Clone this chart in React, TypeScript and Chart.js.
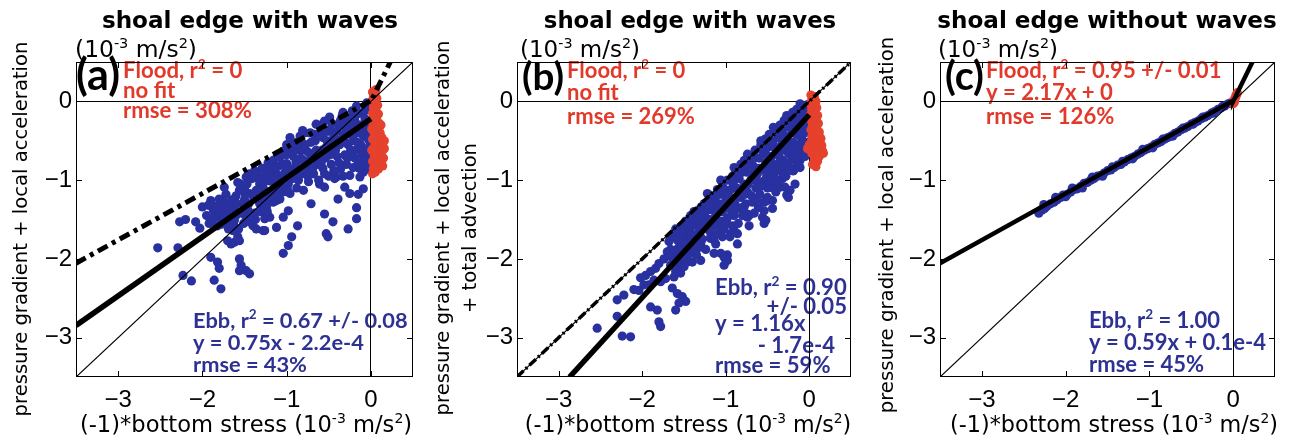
import React, { useEffect, useRef } from 'react';
import { Chart, registerables } from 'chart.js';

Chart.register(...registerables);

// Axis extent and tick values (units of 1e-3 m/s^2)
const AXIS_MIN = -3.5;
const AXIS_MAX = 0.5;
const TICK_VALUES = [-3, -2, -1, 0];

// (a) shoal edge with waves: pressure gradient + local acceleration vs (-1)*bottom stress
const ebbWavesLocal: [number, number][] = [
  [-2.53, -1.86], [-2.29, -1.86], [-2.27, -1.53], [-2.23, -2.21], [-2.2, -1.5],
  [-2.13, -2.28], [-2.08, -1.53], [-2.03, -1.61], [-2.0, -1.34],
  [-1.92, -1.55], [-1.9, -1.26], [-1.88, -1.51], [-1.9, -1.98], [-1.86, -2.27], [-1.84, -1.41],
  [-1.82, -1.58], [-1.82, -2.04], [-1.8, -2.12], [-1.8, -1.24],
  [-1.78, -1.49], [-1.78, -2.38], [-1.74, -1.28], [-1.74, -1.09], [-1.7, -1.53], [-1.7, -1.77],
  [-1.68, -1.3], [-1.72, -1.18], [-1.76, -1.38],
  [-1.66, -1.81], [-1.64, -1.64], [-1.62, -1.79], [-1.62, -1.51], [-1.58, -1.72], [-1.58, -1.03],
  [-1.56, -1.77], [-1.56, -1.13], [-1.56, -2.0], [-1.54, -2.08], [-1.56, -2.15], [-1.6, -1.2],
  [-1.62, -1.38], [-1.6, -1.45],
  [-1.5, -1.11], [-1.48, -0.96], [-1.48, -1.47], [-1.48, -2.15], [-1.44, -0.92], [-1.44, -1.17],
  [-1.44, -1.53], [-1.44, -2.19], [-1.4, -1.58], [-1.52, -1.3], [-1.46, -1.38], [-1.5, -1.25],
  [-1.36, -1.13], [-1.36, -1.62], [-1.32, -1.05], [-1.32, -1.3], [-1.28, -1.64], [-1.28, -1.09],
  [-1.38, -0.88], [-1.34, -0.98], [-1.3, -1.2], [-1.38, -1.42],
  [-1.26, -1.49], [-1.24, -0.84], [-1.24, -1.34], [-1.2, -1.01], [-1.2, -1.47], [-1.26, -1.64],
  [-1.22, -0.78], [-1.18, -0.9], [-1.22, -1.15], [-1.26, -0.95],
  [-1.16, -0.75], [-1.16, -1.28], [-1.12, -0.92], [-1.12, -1.26], [-1.12, -1.6], [-1.08, -0.71],
  [-1.08, -1.24], [-1.06, -1.01], [-1.14, -1.08], [-1.1, -0.82], [-1.04, -1.15],
  [-1.04, -0.63], [-1.04, -1.47], [-1.04, -1.93], [-1.0, -0.79], [-0.98, -1.39], [-0.98, -1.83],
  [-0.96, -0.46], [-0.96, -1.17], [-0.94, -1.72], [-1.02, -0.9], [-0.98, -1.05], [-0.96, -0.6],
  [-1.0, -0.55],
  [-0.92, -0.7], [-0.9, -0.85], [-0.88, -0.52], [-0.87, -1.58], [-0.86, -1.0], [-0.84, -0.62],
  [-0.82, -0.92], [-0.81, -0.37], [-0.8, -1.13], [-0.8, -0.75], [-0.88, -1.1], [-0.84, -0.44],
  [-0.78, -0.55], [-0.76, -0.85], [-0.74, -1.02], [-0.72, -0.4], [-0.71, -1.3], [-0.7, -0.68],
  [-0.68, -0.92], [-0.66, -0.5], [-0.65, -0.29], [-0.64, -0.8], [-0.62, -1.0], [-0.74, -0.65],
  [-0.61, -1.05], [-0.6, -0.4], [-0.58, -0.62], [-0.57, -0.85], [-0.55, -0.25], [-0.55, -1.09],
  [-0.55, -1.43], [-0.54, -0.72], [-0.53, -1.68], [-0.51, -1.72], [-0.52, -0.5], [-0.5, -0.95],
  [-0.49, -0.2],
  [-0.48, -0.35], [-0.47, -0.8], [-0.45, -1.53], [-0.45, -0.6], [-0.44, -0.45], [-0.43, -0.98],
  [-0.41, -0.96], [-0.4, -0.7], [-0.39, -1.24], [-0.38, -0.3], [-0.37, -0.55], [-0.36, -0.86],
  [-0.34, -0.18], [-0.33, -0.14], [-0.32, -0.42], [-0.31, -1.09], [-0.31, -0.68], [-0.29, -0.8],
  [-0.28, -0.28], [-0.27, -1.62], [-0.27, -0.55], [-0.25, -0.94], [-0.25, -1.17], [-0.24, -0.38],
  [-0.23, -0.7], [-0.22, -0.12], [-0.21, -0.84], [-0.2, -0.5], [-0.19, -0.25], [-0.18, -0.62],
  [-0.17, -0.06], [-0.17, -1.49], [-0.17, -1.35], [-0.15, -1.18], [-0.16, -0.4], [-0.15, -0.78],
  [-0.13, -0.96], [-0.13, -0.15], [-0.12, -0.55], [-0.11, -0.32], [-0.1, -0.68], [-0.09, -0.9],
  [-0.09, -1.11], [-0.08, -0.45], [-0.07, -0.22], [-0.06, -0.8], [-0.05, -0.02], [-0.05, -0.6],
  [-0.04, -0.35], [-0.03, -0.86], [-0.03, -0.1], [-0.02, -0.5], [-0.02, -0.7], [-0.01, -0.25],
  [-1.95, -1.45], [-1.93, -1.32], [-1.87, -1.38], [-1.85, -1.46], [-1.83, -1.33], [-1.79, -1.42],
  [-1.77, -1.56], [-1.73, -1.45], [-1.71, -1.35], [-1.69, -1.62], [-1.67, -1.42], [-1.65, -1.25],
  [-1.63, -1.55], [-1.59, -1.3], [-1.57, -1.62], [-1.55, -1.05], [-1.53, -1.42], [-1.51, -1.55],
  [-1.49, -1.18], [-1.47, -1.05], [-1.45, -1.3], [-1.43, -1.45], [-1.41, -0.98], [-1.39, -1.22],
  [-1.37, -1.5], [-1.35, -0.92], [-1.33, -1.15], [-1.31, -1.4], [-1.29, -0.85], [-1.27, -1.02],
  [-1.25, -1.25], [-1.23, -1.4], [-1.21, -0.92], [-1.19, -1.18], [-1.17, -0.82], [-1.15, -1.0],
  [-1.13, -1.18], [-1.11, -0.68], [-1.09, -0.95], [-1.07, -1.1], [-1.05, -0.8], [-1.03, -0.98],
  [-1.01, -0.68], [-0.99, -1.12], [-0.97, -0.85], [-0.95, -0.52], [-0.93, -0.98], [-0.91, -0.62],
  [-0.89, -0.78], [-0.87, -0.92], [-0.85, -0.55], [-0.83, -0.72], [-0.81, -0.85], [-0.79, -0.4],
  [-0.77, -0.62], [-0.75, -0.95], [-0.73, -0.75], [-0.71, -0.52], [-0.69, -0.85], [-0.67, -0.42],
  [-0.65, -0.62], [-0.63, -0.72], [-0.61, -0.3], [-0.59, -0.78], [-0.57, -0.46], [-0.55, -0.92],
  [-0.53, -0.58], [-0.51, -0.38], [-0.49, -0.68], [-0.47, -0.52], [-0.46, -0.28], [-0.44, -0.88],
  [-0.42, -0.62], [-0.4, -0.38], [-0.38, -0.78], [-0.36, -0.24], [-0.35, -0.48], [-0.33, -0.95],
  [-0.31, -0.32], [-0.3, -0.52], [-0.28, -0.72], [-0.26, -0.22], [-0.24, -0.62], [-0.22, -0.44],
  [-0.21, -0.3], [-0.19, -0.72], [-0.18, -0.18], [-0.16, -0.52], [-0.14, -0.85], [-0.13, -0.3],
  [-0.11, -0.62], [-0.1, -0.42], [-0.08, -0.75], [-0.07, -0.12], [-0.06, -0.3], [-0.04, -0.62],
  [-0.03, -0.45], [-0.02, -0.8], [-0.01, -0.05],
];

const floodWavesLocal: [number, number][] = [
  [0.02, 0.12], [0.05, 0.1], [0.03, 0.05], [0.07, 0.04], [0.01, 0.0], [0.05, -0.02], [0.08, -0.05],
  [0.03, -0.08], [0.06, -0.12], [0.02, -0.15], [0.09, -0.16], [0.04, -0.2], [0.07, -0.24],
  [0.02, -0.27], [0.1, -0.28], [0.05, -0.32], [0.08, -0.36], [0.03, -0.38], [0.11, -0.4],
  [0.06, -0.44], [0.13, -0.46], [0.02, -0.48], [0.09, -0.5], [0.14, -0.54], [0.05, -0.55],
  [0.11, -0.58], [0.03, -0.6], [0.14, -0.62], [0.08, -0.64], [0.12, -0.68], [0.04, -0.68],
  [0.15, -0.72], [0.09, -0.73], [0.02, -0.76], [0.12, -0.78], [0.06, -0.8], [0.14, -0.82],
  [0.03, -0.85], [0.09, -0.86], [0.05, -0.9], [0.02, -0.92],
  [0.12, -0.3], [0.1, -0.45], [0.16, -0.6], [0.13, -0.75], [0.07, -0.58], [0.04, -0.45],
  [0.06, -0.25], [0.04, -0.1], [0.07, -0.7], [0.1, -0.82], [0.16, -0.5], [0.01, -0.62],
  [0.01, -0.35], [0.03, 0.1], [0.06, 0.15],
];

// (b) shoal edge with waves: pressure gradient + local acceleration + total advection
const ebbWavesAdvection: [number, number][] = [
  [-2.54, -2.88], [-2.24, -2.98], [-2.14, -2.99], [-2.3, -2.73], [-2.3, -2.52], [-2.22, -2.46],
  [-2.1, -2.39], [-2.04, -2.4], [-1.98, -2.33], [-2.02, -2.24], [-1.96, -2.21], [-1.9, -2.16],
  [-1.84, -2.12], [-1.8, -2.06], [-1.74, -2.0], [-1.7, -1.91], [-1.92, -2.33], [-1.86, -2.27],
  [-1.78, -2.29], [-1.72, -2.25], [-1.9, -2.61], [-1.82, -2.65], [-1.8, -2.8], [-1.78, -2.86],
  [-1.64, -2.37], [-1.58, -2.44], [-1.52, -2.48], [-1.48, -2.54], [-1.56, -2.56], [-1.6, -2.65],
  [-1.62, -2.23], [-1.6, -2.16], [-1.56, -2.1], [-1.54, -2.02], [-1.46, -2.04], [-1.4, -2.04],
  [-1.3, -2.02], [-1.42, -1.93], [-1.36, -1.89], [-1.3, -1.81], [-1.38, -1.81], [-1.66, -1.97],
  [-1.6, -1.89], [-1.56, -1.85], [-1.54, -1.68], [-1.46, -1.64], [-1.38, -1.55], [-1.3, -1.47],
  [-1.22, -1.38], [-1.14, -1.32], [-1.18, -1.74], [-1.12, -1.81], [-1.04, -1.72], [-0.98, -2.02],
  [-1.22, -1.17], [-1.06, -1.0], [-0.9, -0.84], [-0.74, -0.67], [-0.58, -0.5], [-0.43, -0.33],
  [-0.27, -0.18], [-0.11, -0.03], [-1.3, -1.85], [-1.14, -1.76], [-0.9, -1.64], [-0.74, -1.47],
  [-0.5, -1.26], [-0.35, -1.09], [-0.19, -0.88], [-0.11, -0.71], [-0.86, -1.81], [-1.14, -1.93],
  [-0.98, -1.95], [-0.72, -1.45], [-0.56, -1.47], [-0.54, -1.55], [-0.44, -1.36], [-0.32, -0.98],
  [-0.29, -1.09], [-0.23, -1.13], [-0.17, -1.05], [-0.11, -0.84], [-0.27, -1.19], [-0.44, -1.26],
  [-0.4, -1.15], [-0.54, -1.39], [-0.52, -1.51], [-0.38, -1.09], [-0.25, -1.22], [-0.13, -0.8],
  [-1.06, -1.93], [-1.02, -1.98], [-1.02, -2.08], [-0.94, -1.68], [-0.86, -1.68], [-0.78, -1.34],
  [-0.74, -1.43], [-0.5, -1.22], [-0.31, -0.84], [-0.19, -0.88], [-0.11, -0.75],
  [-1.68, -1.78], [-1.66, -2.08], [-1.64, -1.7], [-1.62, -1.98], [-1.6, -1.62], [-1.58, -1.76],
  [-1.56, -1.95], [-1.54, -2.18], [-1.52, -1.58], [-1.52, -1.85], [-1.5, -1.72], [-1.5, -2.1],
  [-1.48, -1.52], [-1.48, -1.82], [-1.46, -1.95], [-1.44, -1.66], [-1.42, -1.45], [-1.42, -1.75],
  [-1.4, -1.58], [-1.38, -1.4], [-1.36, -1.7], [-1.35, -1.95], [-1.34, -1.5], [-1.32, -1.62],
  [-1.3, -1.35], [-1.28, -1.75], [-1.28, -1.55], [-1.26, -1.3], [-1.25, -1.45], [-1.24, -1.88],
  [-1.22, -1.62], [-1.2, -1.25],
  [-1.19, -1.5], [-1.18, -1.72], [-1.16, -1.38], [-1.15, -1.2], [-1.14, -1.58], [-1.12, -1.45],
  [-1.1, -1.12], [-1.1, -1.68], [-1.08, -1.3], [-1.06, -1.52], [-1.04, -1.08], [-1.04, -1.4],
  [-1.02, -1.62], [-1.0, -1.22], [-0.98, -1.0], [-0.98, -1.48], [-0.96, -1.35], [-0.95, -1.72],
  [-0.94, -1.12], [-0.92, -0.95], [-0.92, -1.58], [-0.9, -1.25], [-0.9, -1.45],
  [-0.88, -0.88], [-0.87, -1.1], [-0.86, -1.36], [-0.85, -1.55], [-0.84, -0.98], [-0.82, -0.8],
  [-0.82, -1.22], [-0.8, -1.45], [-0.78, -1.05], [-0.78, -0.75], [-0.76, -1.3], [-0.75, -0.9],
  [-0.74, -1.15], [-0.72, -1.58], [-0.71, -0.7], [-0.7, -1.0], [-0.68, -1.28], [-0.67, -0.82],
  [-0.66, -1.42], [-0.65, -0.62], [-0.64, -1.1], [-0.62, -0.92], [-0.61, -1.35], [-0.6, -0.72],
  [-0.59, -1.18], [-0.58, -0.55], [-0.57, -0.85], [-0.56, -1.02], [-0.55, -0.65], [-0.54, -1.28],
  [-0.53, -0.48], [-0.52, -0.78], [-0.51, -0.95], [-0.5, -1.1], [-0.49, -0.58], [-0.48, -0.42],
  [-0.47, -0.85], [-0.46, -1.02], [-0.45, -0.7], [-0.44, -0.5], [-0.42, -0.92], [-0.41, -0.36],
  [-0.4, -0.62], [-0.39, -0.8], [-0.38, -1.0], [-0.37, -0.46], [-0.36, -0.7], [-0.35, -0.3],
  [-0.34, -0.88], [-0.33, -0.55], [-0.32, -0.4], [-0.31, -0.75],
  [-0.3, -0.24], [-0.29, -0.62], [-0.28, -0.95], [-0.27, -0.45], [-0.26, -0.32], [-0.25, -0.78],
  [-0.24, -0.55], [-0.23, -0.2], [-0.22, -0.68], [-0.21, -0.4], [-0.2, -0.88], [-0.2, -0.14],
  [-0.19, -0.52], [-0.18, -0.3], [-0.17, -0.74], [-0.16, -0.62], [-0.15, -0.1], [-0.15, -0.42],
  [-0.14, -0.22], [-0.13, -0.56], [-0.12, -0.68], [-0.11, -0.34], [-0.1, -0.15], [-0.09, -0.48],
  [-0.08, -0.6], [-0.08, -0.06], [-0.07, -0.26], [-0.06, -0.4], [-0.05, -0.7], [-0.05, -0.12],
  [-0.04, -0.52], [-0.03, -0.3], [-0.02, -0.04], [-0.02, -0.2],
  [-1.66, -1.88], [-1.63, -2.05], [-1.61, -1.72], [-1.57, -1.66], [-1.55, -1.9], [-1.53, -1.75],
  [-1.49, -1.62], [-1.47, -1.88], [-1.45, -1.55], [-1.43, -1.82], [-1.41, -1.68], [-1.39, -1.48],
  [-1.37, -1.78], [-1.33, -1.42], [-1.31, -1.7], [-1.29, -1.45], [-1.27, -1.62], [-1.23, -1.52],
  [-1.21, -1.32], [-1.19, -1.65], [-1.17, -1.28], [-1.13, -1.25], [-1.11, -1.55], [-1.09, -1.4],
  [-1.07, -1.18], [-1.05, -1.62], [-1.03, -1.3], [-1.01, -1.12], [-0.99, -1.55], [-0.97, -1.18],
  [-0.93, -1.4], [-0.91, -1.05], [-0.89, -1.3], [-0.85, -1.2], [-0.83, -0.92], [-0.81, -1.35],
  [-0.79, -0.85], [-0.77, -1.18], [-0.73, -0.8], [-0.73, -1.05], [-0.69, -0.92], [-0.69, -1.2],
  [-0.66, -0.72], [-0.63, -1.0], [-0.63, -1.25], [-0.6, -0.85], [-0.58, -1.08], [-0.56, -0.6],
  [-0.53, -0.88], [-0.51, -0.68], [-0.48, -1.0], [-0.46, -0.78], [-0.43, -0.55], [-0.43, -1.1],
  [-0.4, -0.88], [-0.38, -0.62], [-0.35, -0.78], [-0.34, -0.4], [-0.31, -0.92], [-0.29, -0.52],
  [-0.27, -0.3], [-0.25, -0.66], [-0.23, -0.85], [-0.21, -0.25], [-0.19, -0.62], [-0.17, -0.4],
  [-0.15, -0.82], [-0.13, -0.18], [-0.11, -0.6], [-0.1, -0.4], [-0.07, -0.52], [-0.06, -0.2],
  [-0.04, -0.62], [-0.03, -0.1], [-0.01, -0.3],
];

const floodWavesAdvection: [number, number][] = [
  [0.02, 0.08], [0.06, 0.06], [0.03, 0.02], [0.08, 0.0], [0.01, -0.03], [0.05, -0.06], [0.09, -0.08],
  [0.03, -0.1], [0.07, -0.13], [0.02, -0.16], [0.1, -0.18], [0.05, -0.2], [0.08, -0.24], [0.03, -0.26],
  [0.11, -0.28], [0.06, -0.31], [0.09, -0.35], [0.02, -0.36], [0.12, -0.39], [0.05, -0.41],
  [0.08, -0.45], [0.14, -0.47], [0.03, -0.5], [0.1, -0.52], [0.15, -0.56], [0.06, -0.57],
  [0.12, -0.6], [0.16, -0.63], [0.08, -0.65], [0.03, -0.66], [0.12, -0.7], [0.06, -0.73],
  [0.1, -0.76], [0.04, -0.8], [0.08, -0.83],
  [0.14, -0.58], [0.17, -0.66], [0.1, -0.62], [0.05, -0.63], [0.13, -0.52], [0.04, -0.3],
  [0.07, -0.2], [0.12, -0.44], [0.0, -0.55], [-0.02, -0.6], [0.1, -0.7], [0.03, -0.45],
];

// (c) shoal edge without waves
const ebbNoWaves: [number, number][] = [
  [-2.32, -1.42], [-2.28, -1.38], [-2.25, -1.36], [-2.22, -1.33], [-2.18, -1.3], [-2.14, -1.28],
  [-2.1, -1.25], [-2.06, -1.22], [-2.03, -1.19], [-1.98, -1.18], [-1.94, -1.15], [-1.9, -1.12],
  [-1.86, -1.11], [-1.82, -1.08], [-1.78, -1.04], [-1.74, -1.03], [-1.7, -1.0], [-1.66, -0.98],
  [-1.62, -0.95], [-1.58, -0.94], [-1.54, -0.91], [-1.5, -0.88], [-1.46, -0.87], [-1.42, -0.84],
  [-1.38, -0.81], [-1.34, -0.8], [-1.3, -0.77], [-1.26, -0.74], [-1.22, -0.72], [-1.18, -0.7],
  [-1.14, -0.67], [-1.1, -0.65], [-1.06, -0.62], [-1.02, -0.6], [-0.98, -0.58], [-0.94, -0.55],
  [-0.9, -0.53], [-0.86, -0.51], [-0.82, -0.48], [-0.78, -0.46], [-0.74, -0.44], [-0.7, -0.41],
  [-0.66, -0.39], [-0.62, -0.36], [-0.58, -0.34], [-0.54, -0.32], [-0.5, -0.29], [-0.46, -0.27],
  [-0.42, -0.25], [-0.38, -0.22], [-0.34, -0.2], [-0.3, -0.18], [-0.26, -0.15], [-0.22, -0.13],
  [-0.18, -0.1], [-0.14, -0.08], [-0.1, -0.06], [-0.06, -0.03], [-0.03, -0.02],
  [-2.26, -1.31], [-2.12, -1.22], [-2.0, -1.21], [-1.92, -1.1], [-1.8, -1.1], [-1.68, -0.96],
  [-1.56, -0.95], [-1.44, -0.83], [-1.32, -0.76], [-1.2, -0.73], [-1.08, -0.61], [-0.96, -0.59],
  [-0.84, -0.48], [-0.72, -0.44], [-0.6, -0.34], [-0.48, -0.29], [-0.36, -0.2], [-0.24, -0.15],
  [-0.12, -0.06],
];

const floodNoWaves: [number, number][] = [
  [0.0, -0.03], [0.01, 0.01], [0.015, -0.01], [0.02, 0.04], [0.03, 0.05], [0.035, 0.08],
  [0.045, 0.09], [0.05, 0.11],
];

// Fitted relations quoted in the panel notes (y = slope*x + intercept, 1e-3 m/s^2)
const fitWavesLocal = { slope: 0.75, intercept: -0.22 };
const fitWavesAdvection = { slope: 1.16, intercept: -0.17 };
const fitNoWavesEbb = { slope: 0.59, intercept: 0.01 };
const fitNoWavesFlood = { slope: 2.17, intercept: 0 };

const BLUE = '#29309f';
const RED = '#e5412d';
const BLUE_TEXT = '#2d3192';
const RED_TEXT = '#e2392b';

const TICK_FAMILY = "'Liberation Sans', Arial, sans-serif";
const AXIS_FAMILY = "'DejaVu Sans', sans-serif";
const NOTE_FAMILY = "Lato, 'Open Sans', sans-serif";

const CANVAS_H = 444;
const AREA_TOP = 62;
const AREA_BOTTOM = 377;
const POINT_R = 4.6;

type Pt = { x: number; y: number };
type LineDef = { points: Pt[]; width: number; dash?: number[] };
type NoteLine = { text: string; x: number; y: number; align?: 'left' | 'right' };
type NoteBlock = { color: string; fitLine: number; fitWidth: number; lines: NoteLine[] };

interface PanelDef {
  left: number;
  width: number;
  areaLeft: number;
  areaRight: number;
  ebb: [number, number][];
  flood: [number, number][];
  lines: LineDef[];
  title: string;
  titleX: number;
  titleW: number;
  yTitle: string[];
  yTitleX: number[];
  yTitleY: number;
  yTitleW: number;
  xTitleX: number;
  xTitleW: number;
  unitsX: number;
  unitsW: number;
  label: string;
  labelX: number;
  labelW: number;
  notes: NoteBlock[];
}

const lineFrom = (f: { slope: number; intercept: number }, x0: number, x1: number): Pt[] => [
  { x: x0, y: f.slope * x0 + f.intercept },
  { x: x1, y: f.slope * x1 + f.intercept },
];

const oneToOne: Pt[] = [
  { x: AXIS_MIN, y: AXIS_MIN },
  { x: AXIS_MAX, y: AXIS_MAX },
];

// no-waves relation: ebb branch below zero, flood branch above
const noWavesCurve: Pt[] = [
  ...lineFrom(fitNoWavesEbb, AXIS_MIN, 0),
  ...lineFrom(fitNoWavesFlood, 0, (AXIS_MAX - fitNoWavesFlood.intercept) / fitNoWavesFlood.slope),
];

const X_TITLE = '(-1)*bottom stress (10^{-3} m/s^{2})';
const UNITS = '(10^{-3} m/s^{2})';

const panels: PanelDef[] = [
  {
    left: 0,
    width: 430,
    areaLeft: 76,
    areaRight: 413,
    ebb: ebbWavesLocal,
    flood: floodWavesLocal,
    lines: [
      { points: oneToOne, width: 1.2 },
      { points: lineFrom(fitWavesLocal, AXIS_MIN, 0), width: 5.5 },
      { points: noWavesCurve, width: 5, dash: [11, 5, 4, 5] },
    ],
    title: 'shoal edge with waves',
    titleX: 250,
    titleW: 296,
    yTitle: ['pressure gradient + local acceleration'],
    yTitleX: [27],
    yTitleY: 229,
    yTitleW: 375,
    xTitleX: 246,
    xTitleW: 332,
    unitsX: 75,
    unitsW: 122,
    label: '(a)',
    labelX: 76,
    labelW: 44,
    notes: [
      {
        color: RED_TEXT,
        fitLine: 2,
        fitWidth: 129,
        lines: [
          { text: 'Flood, r^{2} = 0', x: 123, y: 78 },
          { text: 'no fit', x: 123, y: 98 },
          { text: 'rmse = 308%', x: 123, y: 118 },
        ],
      },
      {
        color: BLUE_TEXT,
        fitLine: 0,
        fitWidth: 215,
        lines: [
          { text: 'Ebb, r^{2} = 0.67 +/- 0.08', x: 193, y: 328 },
          { text: 'y = 0.75x - 2.2e-4', x: 193, y: 350 },
          { text: 'rmse = 43%', x: 193, y: 372 },
        ],
      },
    ],
  },
  {
    left: 430,
    width: 430,
    areaLeft: 517,
    areaRight: 851,
    ebb: ebbWavesAdvection,
    flood: floodWavesAdvection,
    lines: [
      { points: oneToOne, width: 1.2 },
      {
        points: lineFrom(
          fitWavesAdvection,
          (AXIS_MIN - fitWavesAdvection.intercept) / fitWavesAdvection.slope,
          0,
        ),
        width: 5.5,
      },
      { points: oneToOne, width: 3.5, dash: [9, 3, 2, 3] },
    ],
    title: 'shoal edge with waves',
    titleX: 690,
    titleW: 293,
    yTitle: ['pressure gradient + local acceleration', '+ total advection'],
    yTitleX: [449, 476],
    yTitleY: 228,
    yTitleW: 375,
    xTitleX: 688,
    xTitleW: 327,
    unitsX: 520,
    unitsW: 120,
    label: '(b)',
    labelX: 522,
    labelW: 42,
    notes: [
      {
        color: RED_TEXT,
        fitLine: 2,
        fitWidth: 128,
        lines: [
          { text: 'Flood, r^{2} = 0', x: 567, y: 78 },
          { text: 'no fit', x: 567, y: 100 },
          { text: 'rmse = 269%', x: 567, y: 124 },
        ],
      },
      {
        color: BLUE_TEXT,
        fitLine: 0,
        fitWidth: 132,
        lines: [
          { text: 'Ebb, r^{2} = 0.90', x: 715, y: 295 },
          { text: '+/- 0.05', x: 847, y: 314, align: 'right' },
          { text: 'y = 1.16x', x: 715, y: 331 },
          { text: '- 1.7e-4', x: 835, y: 353, align: 'right' },
          { text: 'rmse = 59%', x: 715, y: 373 },
        ],
      },
    ],
  },
  {
    left: 860,
    width: 431,
    areaLeft: 940,
    areaRight: 1275,
    ebb: ebbNoWaves,
    flood: floodNoWaves,
    lines: [
      { points: oneToOne, width: 1.2 },
      { points: noWavesCurve, width: 4.5 },
    ],
    title: 'shoal edge without waves',
    titleX: 1107,
    titleW: 340,
    yTitle: ['pressure gradient + local acceleration'],
    yTitleX: [893],
    yTitleY: 225,
    yTitleW: 376,
    xTitleX: 1114,
    xTitleW: 328,
    unitsX: 938,
    unitsW: 120,
    label: '(c)',
    labelX: 945,
    labelW: 39,
    notes: [
      {
        color: RED_TEXT,
        fitLine: 0,
        fitWidth: 236,
        lines: [
          { text: 'Flood, r^{2} = 0.95 +/- 0.01', x: 986, y: 78 },
          { text: 'y = 2.17x + 0', x: 986, y: 100 },
          { text: 'rmse = 126%', x: 986, y: 124 },
        ],
      },
      {
        color: BLUE_TEXT,
        fitLine: 1,
        fitWidth: 177,
        lines: [
          { text: 'Ebb, r^{2} = 1.00', x: 1089, y: 328 },
          { text: 'y = 0.59x + 0.1e-4', x: 1089, y: 350 },
          { text: 'rmse = 45%', x: 1089, y: 372 },
        ],
      },
    ],
  },
];

type Run = { t: string; sup: boolean };

function splitRuns(text: string): Run[] {
  const parts: Run[] = [];
  const re = /\^\{([^}]*)\}/g;
  let last = 0;
  let m: RegExpExecArray | null;
  while ((m = re.exec(text))) {
    if (m.index > last) parts.push({ t: text.slice(last, m.index), sup: false });
    parts.push({ t: m[1], sup: true });
    last = re.lastIndex;
  }
  if (last < text.length) parts.push({ t: text.slice(last), sup: false });
  return parts;
}

const fontFor = (size: number, family: string, weight: string, sup: boolean) =>
  `${weight} ${sup ? Math.round(size * 0.62 * 10) / 10 : size}px ${family}`;

function measureRich(ctx: CanvasRenderingContext2D, text: string, size: number, family: string, weight: string) {
  let total = 0;
  for (const p of splitRuns(text)) {
    ctx.font = fontFor(size, family, weight, p.sup);
    total += ctx.measureText(p.t).width;
  }
  return total;
}

// font size at which a text spans the given width
function sizeForWidth(ctx: CanvasRenderingContext2D, text: string, width: number, family: string, weight: string) {
  const base = 20;
  const w = measureRich(ctx, text, base, family, weight);
  return Math.round((base * width) / w * 10) / 10;
}

// Draws text with ^{...} superscript runs
function drawRich(
  ctx: CanvasRenderingContext2D,
  text: string,
  x: number,
  y: number,
  size: number,
  family: string,
  weight: string,
  align: 'left' | 'right' | 'center',
) {
  const runs = splitRuns(text);
  const total = measureRich(ctx, text, size, family, weight);
  let cx = align === 'left' ? x : align === 'center' ? x - total / 2 : x - total;
  ctx.textAlign = 'left';
  ctx.textBaseline = 'alphabetic';
  for (const p of runs) {
    ctx.font = fontFor(size, family, weight, p.sup);
    ctx.fillText(p.t, cx, p.sup ? y - size * 0.4 : y);
    cx += ctx.measureText(p.t).width;
  }
}

const fmtTick = (v: number | string) => {
  const n = Number(v);
  return n < 0 ? '\u2212' + Math.abs(n) : String(n);
};

function Panel({ def }: { def: PanelDef }) {
  const ref = useRef<HTMLCanvasElement | null>(null);

  useEffect(() => {
    const canvas = ref.current;
    if (!canvas) return;
    const off = def.left;

    const decor = {
      id: 'decor',
      beforeDraw(chart: Chart) {
        const ctx = chart.ctx;
        ctx.save();
        ctx.fillStyle = '#000';
        const ls = sizeForWidth(ctx, def.label, def.labelW, NOTE_FAMILY, 'bold');
        drawRich(ctx, def.label, def.labelX - off, 90, ls, NOTE_FAMILY, 'bold', 'left');
        for (const b of def.notes) {
          ctx.fillStyle = b.color;
          const s = sizeForWidth(ctx, b.lines[b.fitLine].text, b.fitWidth, NOTE_FAMILY, 'bold');
          for (const l of b.lines) {
            drawRich(ctx, l.text, l.x - off, l.y, s, NOTE_FAMILY, 'bold', l.align ?? 'left');
          }
        }
        ctx.restore();
      },
      afterDraw(chart: Chart) {
        const ctx = chart.ctx;
        const a = chart.chartArea;
        const xs = chart.scales.x;
        const ys = chart.scales.y;
        ctx.save();
        ctx.strokeStyle = '#000';
        ctx.lineWidth = 1;
        ctx.strokeRect(
          Math.round(a.left) + 0.5,
          Math.round(a.top) + 0.5,
          Math.round(a.right - a.left) - 1,
          Math.round(a.bottom - a.top) - 1,
        );
        const tl = 6;
        ctx.beginPath();
        for (const v of TICK_VALUES) {
          const px = Math.round(xs.getPixelForValue(v)) + 0.5;
          ctx.moveTo(px, a.bottom);
          ctx.lineTo(px, a.bottom - tl);
          ctx.moveTo(px, a.top);
          ctx.lineTo(px, a.top + tl);
          const py = Math.round(ys.getPixelForValue(v)) + 0.5;
          ctx.moveTo(a.left, py);
          ctx.lineTo(a.left + tl, py);
          ctx.moveTo(a.right, py);
          ctx.lineTo(a.right - tl, py);
        }
        ctx.stroke();

        ctx.fillStyle = '#000';
        const ts = sizeForWidth(ctx, def.title, def.titleW, AXIS_FAMILY, 'bold');
        drawRich(ctx, def.title, def.titleX - off, 28, ts, AXIS_FAMILY, 'bold', 'center');
        const us = sizeForWidth(ctx, UNITS, def.unitsW, AXIS_FAMILY, 'normal');
        drawRich(ctx, UNITS, def.unitsX - off, 57, us, AXIS_FAMILY, 'normal', 'left');
        const xsz = sizeForWidth(ctx, X_TITLE, def.xTitleW, AXIS_FAMILY, 'normal');
        drawRich(ctx, X_TITLE, def.xTitleX - off, 432, xsz, AXIS_FAMILY, 'normal', 'center');
        const ysz = sizeForWidth(ctx, def.yTitle[0], def.yTitleW, AXIS_FAMILY, 'normal');
        def.yTitle.forEach((t, i) => {
          ctx.save();
          ctx.translate(def.yTitleX[i] - off, def.yTitleY);
          ctx.rotate(-Math.PI / 2);
          drawRich(ctx, t, 0, 0, ysz, AXIS_FAMILY, 'normal', 'center');
          ctx.restore();
        });
        ctx.restore();
      },
    };

    const lineSets = def.lines.map((l) => ({
      data: l.points,
      showLine: true,
      borderColor: '#000',
      backgroundColor: 'rgba(0,0,0,0)',
      borderWidth: l.width,
      borderDash: l.dash ?? [],
      borderCapStyle: 'butt' as const,
      pointRadius: 0,
      tension: 0,
      order: 0,
      clip: 0,
    }));

    const chart = new Chart(canvas, {
      type: 'scatter',
      data: {
        datasets: [
          ...lineSets,
          {
            data: def.flood.map(([x, y]) => ({ x, y })),
            backgroundColor: RED,
            borderWidth: 0,
            pointRadius: POINT_R,
            order: 1,
            clip: 0,
          },
          {
            data: def.ebb.map(([x, y]) => ({ x, y })),
            backgroundColor: BLUE,
            borderWidth: 0,
            pointRadius: POINT_R,
            order: 2,
            clip: 0,
          },
        ],
      } as any,
      options: {
        responsive: false,
        maintainAspectRatio: false,
        animation: false,
        devicePixelRatio: 1,
        events: [],
        layout: {
          padding: { left: 0, top: AREA_TOP, right: def.left + def.width - def.areaRight, bottom: 0 },
        },
        plugins: {
          legend: { display: false },
          tooltip: { enabled: false },
          title: { display: false },
        },
        scales: {
          x: {
            type: 'linear',
            min: AXIS_MIN,
            max: AXIS_MAX,
            afterBuildTicks: (s: any) => {
              s.ticks = TICK_VALUES.map((v) => ({ value: v }));
            },
            afterFit: (s: any) => {
              s.height = CANVAS_H - AREA_BOTTOM;
            },
            grid: {
              drawTicks: false,
              lineWidth: 1,
              color: (c: any) => (c.tick && c.tick.value === 0 ? '#000' : 'rgba(0,0,0,0)'),
            },
            border: { display: false },
            ticks: {
              color: '#000',
              font: { family: TICK_FAMILY, size: 24 },
              padding: 9,
              maxRotation: 0,
              autoSkip: false,
              callback: fmtTick,
            },
          },
          y: {
            type: 'linear',
            min: AXIS_MIN,
            max: AXIS_MAX,
            afterBuildTicks: (s: any) => {
              s.ticks = TICK_VALUES.map((v) => ({ value: v }));
            },
            afterFit: (s: any) => {
              s.width = def.areaLeft - def.left;
            },
            grid: {
              drawTicks: false,
              lineWidth: 1,
              color: (c: any) => (c.tick && c.tick.value === 0 ? '#000' : 'rgba(0,0,0,0)'),
            },
            border: { display: false },
            ticks: {
              color: '#000',
              font: { family: TICK_FAMILY, size: 24 },
              padding: 4,
              autoSkip: false,
              callback: fmtTick,
            },
          },
        },
      } as any,
      plugins: [decor],
    });

    return () => chart.destroy();
  }, [def]);

  return (
    <canvas
      ref={ref}
      width={def.width}
      height={CANVAS_H}
      style={{ position: 'absolute', left: def.left, top: 0, width: def.width, height: CANVAS_H }}
    />
  );
}

export default function App() {
  return (
    <div
      style={{
        position: 'absolute',
        left: 0,
        top: 0,
        width: 1291,
        height: CANVAS_H,
        background: '#fff',
        overflow: 'hidden',
      }}
    >
      {panels.map((p, i) => (
        <Panel key={i} def={p} />
      ))}
    </div>
  );
}
